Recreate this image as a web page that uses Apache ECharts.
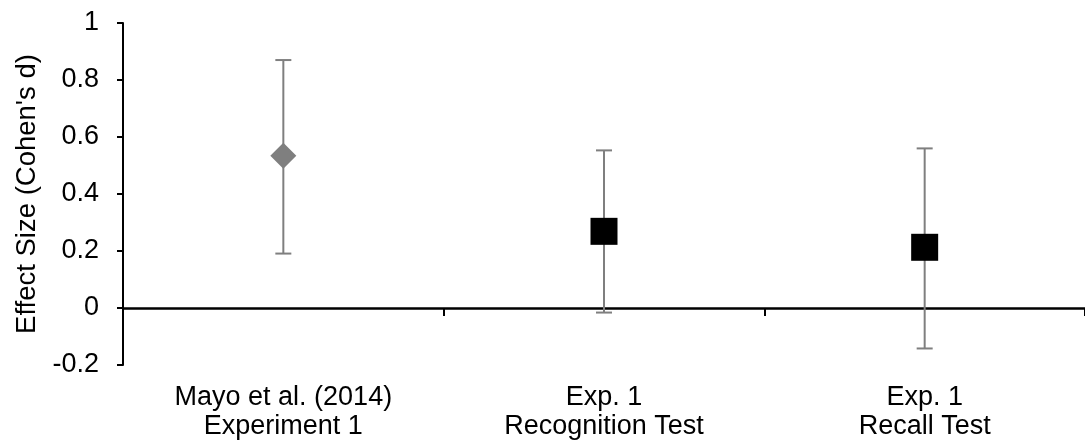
<!DOCTYPE html>
<html>
<head>
<meta charset="utf-8">
<script src="https://cdn.jsdelivr.net/npm/echarts@6/dist/echarts.min.js"></script>
<style>
html,body{margin:0;padding:0;background:#fff;}
#chart{width:1085px;height:446px;}
</style>
</head>
<body>
<div id="chart"></div>
<script>
const categories = ['Mayo et al. (2014)\nExperiment 1', 'Exp. 1\nRecognition Test', 'Exp. 1\nRecall Test'];
const effectSize = [0.534, 0.269, 0.213];
const ciLow = [0.191, -0.016, -0.142];
const ciHigh = [0.870, 0.553, 0.560];
const yTicks = { min: -0.2, max: 1, interval: 0.2 };

const FONT = '"Liberation Sans", Arial, sans-serif';
const chart = echarts.init(document.getElementById('chart'), null, { renderer: 'canvas' });

const errData = categories.map((c, i) => [i, ciLow[i], ciHigh[i]]);

const option = {
  animation: false,
  backgroundColor: '#fff',
  grid: { left: 123, right: -4, top: 23, bottom: 81, containLabel: false },
  xAxis: [
    {
      type: 'category',
      data: categories,
      position: 'bottom',
      axisLine: { show: false, onZero: false },
      axisTick: { show: false },
      axisLabel: { color: '#000', fontFamily: FONT, fontSize: 27, lineHeight: 29, margin: 18, interval: 0 },
      splitLine: { show: false }
    },
    {
      type: 'category',
      data: categories,
      position: 'bottom',
      axisLine: { show: true, onZero: true, lineStyle: { color: '#000', width: 2.5 } },
      axisTick: { show: true, length: 8, lineStyle: { color: '#000', width: 2 } },
      axisLabel: { show: false },
      splitLine: { show: false }
    }
  ],
  yAxis: {
    type: 'value',
    min: yTicks.min,
    max: yTicks.max,
    interval: yTicks.interval,
    name: "Effect Size (Cohen's d)",
    nameLocation: 'middle',
    nameGap: 81,
    nameTextStyle: { color: '#000', fontFamily: FONT, fontSize: 27.5 },
    axisLine: { show: true, onZero: false, lineStyle: { color: '#000', width: 2 } },
    axisTick: { show: true, length: 6, lineStyle: { color: '#000', width: 2 } },
    axisLabel: { color: '#000', fontFamily: FONT, fontSize: 27, margin: 24 },
    splitLine: { show: false }
  },
  series: [
    {
      type: 'custom',
      xAxisIndex: 0,
      data: errData,
      z: 2,
      renderItem: function (params, api) {
        const x = api.value(0);
        const lo = api.coord([x, api.value(1)]);
        const hi = api.coord([x, api.value(2)]);
        const half = 8;
        const style = { stroke: '#7f7f7f', lineWidth: 2 };
        return {
          type: 'group',
          children: [
            { type: 'line', shape: { x1: lo[0], y1: lo[1], x2: hi[0], y2: hi[1] }, style: style },
            { type: 'line', shape: { x1: lo[0] - half, y1: lo[1], x2: lo[0] + half, y2: lo[1] }, style: style },
            { type: 'line', shape: { x1: hi[0] - half, y1: hi[1], x2: hi[0] + half, y2: hi[1] }, style: style }
          ]
        };
      }
    },
    {
      type: 'scatter',
      xAxisIndex: 0,
      z: 5,
      data: effectSize.map((v, i) => ({
        value: v,
        symbol: i === 0 ? 'diamond' : 'rect',
        symbolSize: i === 0 ? [26, 26] : 27,
        itemStyle: { color: i === 0 ? '#7f7f7f' : '#000', opacity: 1 }
      })),
      emphasis: { disabled: true }
    }
  ]
};
chart.setOption(option);
</script>
</body>
</html>
